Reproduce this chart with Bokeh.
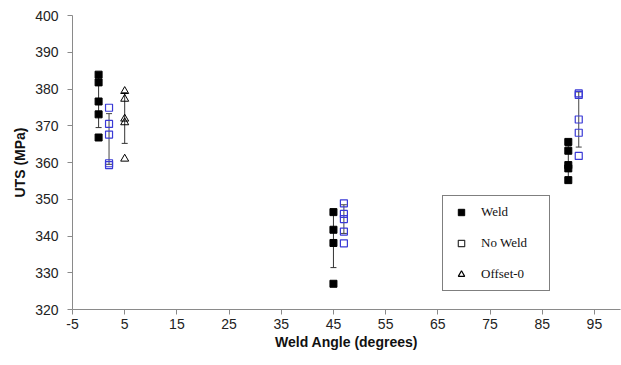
from bokeh.plotting import figure
from bokeh.models import (ColumnDataSource, Whisker, TeeHead, Legend, LegendItem,
                          FixedTicker, Range1d)
from bokeh.embed import file_html
from bokeh.resources import INLINE

# ---- data ----
weld_x = [0, 0, 0, 0, 0, 45, 45, 45, 45, 90, 90, 90, 90, 90]
weld_y = [383.9, 381.8, 376.6, 373.1, 366.8,
          346.5, 341.7, 338.1, 327.0,
          365.6, 363.2, 359.3, 358.4, 355.2]

noweld_x = [2, 2, 2, 2, 2, 47, 47, 47, 47, 47, 92, 92, 92, 92, 92]
noweld_y = [374.9, 370.5, 367.6, 359.8, 359.3,
            348.9, 346.0, 344.6, 341.2, 338.0,
            378.8, 378.4, 371.7, 368.1, 361.8]

offset_x = [5, 5, 5, 5, 5]
offset_y = [379.4, 377.3, 371.9, 370.9, 361.0]

# error bars: position, lower, upper
err_weld_x = [0, 45, 90]
err_weld_lo = [369.5, 331.4, 356.0]
err_weld_hi = [383.5, 346.5, 364.5]

err_noweld_x = [2, 47, 92]
err_noweld_lo = [359.5, 340.7, 364.2]
err_noweld_hi = [373.3, 348.5, 379.2]

err_off_x = [5]
err_off_lo = [365.2]
err_off_hi = [379.0]

x_ticks = [-5, 5, 15, 25, 35, 45, 55, 65, 75, 85, 95]
y_ticks = [320, 330, 340, 350, 360, 370, 380, 390, 400]

BLUE = "#3a3ad6"
AXIS_GRAY = "#8a8a8a"

p = figure(width=621, height=365, output_backend="svg", toolbar_location=None,
           x_range=Range1d(-5, 100), y_range=Range1d(320, 400),
           min_border_left=72, min_border_right=1, min_border_top=15,
           min_border_bottom=56)
p.outline_line_color = None
p.xgrid.grid_line_color = None
p.ygrid.grid_line_color = None
p.background_fill_color = "white"
p.border_fill_color = "white"

for ax in (p.xaxis[0], p.yaxis[0]):
    ax.axis_line_color = AXIS_GRAY
    ax.major_tick_line_color = AXIS_GRAY
    ax.minor_tick_line_color = None
    ax.major_tick_in = 0
    ax.major_tick_out = 5
    ax.major_label_text_font = "Liberation Sans"
    ax.major_label_text_font_size = "14px"
    ax.major_label_text_color = "#222222"
    ax.axis_label_text_font = "Liberation Sans"
    ax.axis_label_text_font_size = "14px"
    ax.axis_label_text_font_style = "bold"
    ax.axis_label_text_color = "#111111"

p.xaxis.ticker = FixedTicker(ticks=x_ticks)
p.yaxis.ticker = FixedTicker(ticks=y_ticks)
p.xaxis.major_label_overrides = {t: str(t) for t in x_ticks}
p.xaxis.axis_label = "Weld Angle (degrees)"
p.yaxis.axis_label = "UTS (MPa)"
p.xaxis.major_label_standoff = 4
p.xaxis.axis_label_standoff = 2
p.yaxis.major_label_standoff = 9
p.yaxis.axis_label_standoff = 4

# error bars
def add_whisker(xs, lo, hi, color):
    src = ColumnDataSource(dict(x=xs, lo=lo, hi=hi))
    w = Whisker(base="x", lower="lo", upper="hi", source=src, dimension="height",
                line_color=color, line_width=1,
                upper_head=TeeHead(size=6, line_color=color, line_width=1),
                lower_head=TeeHead(size=6, line_color=color, line_width=1),
                level="underlay")
    p.add_layout(w)

add_whisker(err_weld_x, err_weld_lo, err_weld_hi, "#333333")
add_whisker(err_noweld_x, err_noweld_lo, err_noweld_hi, "#444444")
add_whisker(err_off_x, err_off_lo, err_off_hi, "#333333")

# data markers
p.scatter(weld_x, weld_y, marker="square", size=7, fill_color="black", line_color="black")
p.scatter(noweld_x, noweld_y, marker="square", size=7, fill_color=None,
          line_color=BLUE, line_width=1.2)
p.scatter(offset_x, offset_y, marker="triangle", size=8, fill_color=None,
          line_color="black", line_width=1)

# legend-only renderers (black symbols as in the reference legend); NaN data, not drawn
nan = float("nan")
def legend_src():
    return ColumnDataSource(dict(x=[nan], y=[nan]))

lg_w = p.scatter("x", "y", source=legend_src(), marker="square", size=8,
                 fill_color="black", line_color="black")
lg_n = p.scatter("x", "y", source=legend_src(), marker="square", size=8,
                 fill_color=None, line_color="#333333", line_width=1.2)
lg_o = p.scatter("x", "y", source=legend_src(), marker="triangle", size=8,
                 fill_color=None, line_color="black", line_width=1.2)

legend = Legend(items=[LegendItem(label="Weld", renderers=[lg_w], index=0),
                       LegendItem(label="No Weld", renderers=[lg_n], index=0),
                       LegendItem(label="Offset-0", renderers=[lg_o], index=0)],
                location=(370, 18), margin=0, padding=8, spacing=15,
                glyph_height=16, glyph_width=20, label_height=16, label_width=60,
                label_standoff=10, border_line_color="black", border_line_width=1,
                background_fill_color="white", background_fill_alpha=1,
                label_text_font="Liberation Serif", label_text_font_size="13px",
                label_text_color="#111111")
p.add_layout(legend, "center")

open("out.html", "w").write(file_html(p, INLINE))
